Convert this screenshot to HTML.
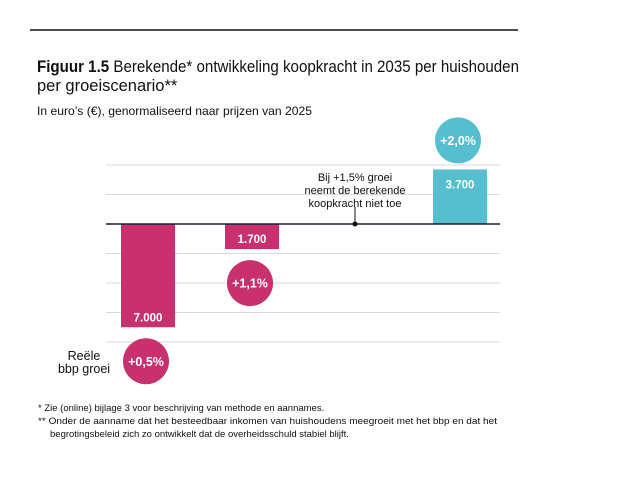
<!DOCTYPE html>
<html><head><meta charset="utf-8"><style>
html,body{margin:0;padding:0;background:#fff;}
svg{display:block;font-family:"Liberation Sans",Arial,sans-serif;}
</style></head><body>
<svg id="chart" width="617" height="484" viewBox="0 0 617 484">
<line x1="30" y1="30" x2="518" y2="30" stroke="#111" stroke-width="1.5"/>
<text x="37" y="72" font-size="16.5" fill="#111" textLength="482" lengthAdjust="spacingAndGlyphs"><tspan font-weight="bold">Figuur 1.5</tspan>  Berekende* ontwikkeling koopkracht in 2035 per huishouden</text>
<text x="37" y="91" font-size="16.5" fill="#111">per groeiscenario**</text>
<text x="37" y="115" font-size="12" fill="#111" textLength="275" lengthAdjust="spacingAndGlyphs">In euro’s (€),  genormaliseerd naar prijzen van 2025</text>
<g id="grid"></g>
<g id="bars"></g>
<line x1="106" y1="224" x2="500" y2="224" stroke="#1a1a3a" stroke-width="1.5"/>
<line x1="355" y1="207" x2="355" y2="224" stroke="#111" stroke-width="1"/>
<circle cx="355" cy="224" r="2.5" fill="#111"/>
<g font-size="11" fill="#111" text-anchor="middle">
<text x="355" y="181">Bij +1,5% groei</text>
<text x="355" y="194">neemt de berekende</text>
<text x="355" y="207">koopkracht niet toe</text>
</g>
<g font-size="12.5" fill="#111" text-anchor="middle">
<text x="84" y="360">Reële</text>
<text x="84" y="373">bbp groei</text>
</g>
<g font-size="9.5" fill="#111">
<text x="38" y="411">* Zie (online) bijlage 3 voor beschrijving van methode en aannames.</text>
<text x="38" y="424" textLength="459" lengthAdjust="spacingAndGlyphs">** Onder de aanname dat het besteedbaar inkomen van huishoudens meegroeit met het bbp en dat het</text>
<text x="50" y="437">begrotingsbeleid zich zo ontwikkelt dat de overheidsschuld stabiel blijft.</text>
</g>
</svg>
<script>
const categories = ["+0,5%","+1,1%","+1,5%","+2,0%"];
const values = [-7000,-1700,0,3700];
const valueLabels = ["7.000","1.700","","3.700"];
const gridTicks = [4000,2000,0,-2000,-4000,-6000,-8000];
const NS="http://www.w3.org/2000/svg";
const y0=224, pxPer=29.5/2000;
function y(v){return y0 - v*pxPer;}
function xc(i){return 148 + i*104;}
const grid=document.getElementById('grid'), bars=document.getElementById('bars');
function mk(t,a,p){const e=document.createElementNS(NS,t);for(const k in a)e.setAttribute(k,a[k]);p.appendChild(e);return e;}
gridTicks.forEach(t=>{ if(t===0)return;
 const l=mk('line',{x1:106,x2:500,y1:y(t),y2:y(t),stroke:'#d8d8e0','stroke-width':1},grid);
 
 
});
values.forEach((v,i)=>{
 const col = v>0 ? '#55bfcf' : '#c8306e';
 const cx=xc(i);
 if(v!==0){
  const top=Math.min(y(v),y0), h=Math.abs(y(v)-y0);
  const r=mk('rect',{x:cx-27,y:top,width:54,height:h,fill:col},bars);
  
  
  const ty = v>0 ? top+15 : top+h-10;
  const t=mk('text',{x:cx,y:ty+4,'text-anchor':'middle','font-size':11.5,'font-weight':'bold',fill:'#fff'},bars);
  t.textContent=valueLabels[i];
  
  
  const cy = v>0 ? y(v)-29 : y(v)+34;
  const c=mk('circle',{cx:cx-2,cy:cy,r:23,fill:col},bars);
  
  
  const ct=mk('text',{x:cx-2,y:cy+4.5,'text-anchor':'middle','font-size':12.5,'font-weight':'bold',fill:'#fff'},bars);
  ct.textContent=categories[i];
  
  
 }
});
</script>
</body></html>
